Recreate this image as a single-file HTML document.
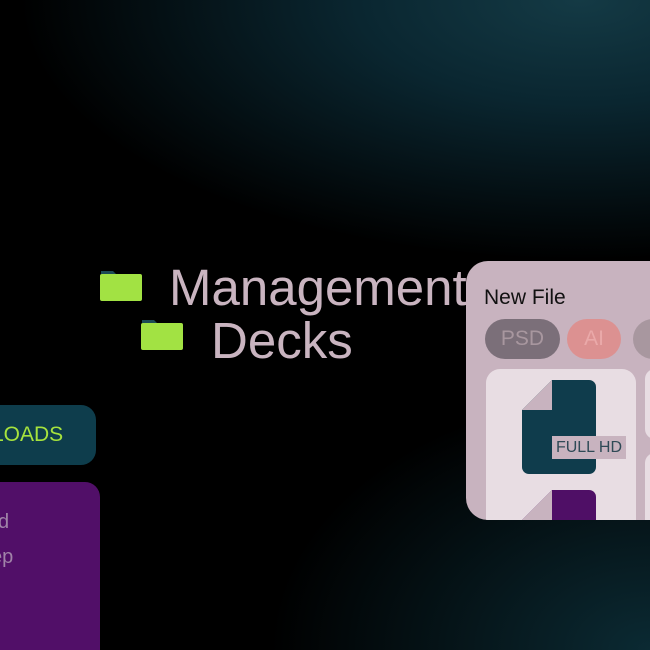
<!DOCTYPE html>
<html><head><style>
html,body{margin:0;padding:0;width:650px;height:650px;overflow:hidden}
body{position:relative;font-family:"Liberation Sans",sans-serif;
background:radial-gradient(ellipse 560px 260px at 580px 0px,#143a45 0%,#0a2630 40%,rgba(0,0,0,0) 100%),
radial-gradient(ellipse 380px 260px at 650px 650px,#0b2a33 0%,rgba(0,0,0,0) 100%),#000;}
.abs{position:absolute}
.folder{position:absolute;width:42px;height:32px}
</style></head><body>
<svg class="folder" style="left:100px;top:269px" viewBox="0 0 42 32"><path d="M1 2h12l3 3h-15z" fill="#1c4a55"/><rect x="0" y="5" width="42" height="27" rx="2" fill="#a2e243"/></svg>
<svg class="folder" style="left:141px;top:318px" viewBox="0 0 42 32"><path d="M1 2h12l3 3h-15z" fill="#1c4a55"/><rect x="0" y="5" width="42" height="27" rx="2" fill="#a2e243"/></svg>
<div class="abs" style="left:169px;top:259px;font-size:51px;color:#c9b4c0;line-height:58px;white-space:nowrap">Management</div>
<div class="abs" style="left:211px;top:312px;font-size:51px;color:#c9b4c0;line-height:58px">Decks</div>

<div class="abs" style="left:-40px;top:405px;width:136px;height:60px;border-radius:15px;background:#0e3d4c"></div>
<div class="abs" style="left:-8px;top:423px;font-size:21px;color:#a6e33d;line-height:24px;white-space:nowrap">LOADS</div>
<div class="abs" style="left:-40px;top:482px;width:140px;height:190px;border-radius:15px;background:#510f68"></div>
<div class="abs" style="left:-2px;top:510px;font-size:20px;color:#a083a8;line-height:24px">d</div>
<div class="abs" style="left:-9px;top:545px;font-size:20px;color:#a083a8;line-height:24px">ep</div>

<div class="abs" style="left:466px;top:261px;width:220px;height:259px;border-radius:22px;background:#c8b3bf;overflow:hidden">
  <div class="abs" style="left:18px;top:25px;font-size:21px;color:#111;line-height:24px">New File</div>
  <div class="abs" style="left:19px;top:58px;width:75px;height:40px;border-radius:20px;background:#7b6f79;color:#a8979f;font-size:21px;line-height:40px;text-align:center">PSD</div>
  <div class="abs" style="left:101px;top:58px;width:54px;height:40px;border-radius:20px;background:#dc9191;color:#eaa9a9;font-size:21px;line-height:40px;text-align:center">AI</div>
  <div class="abs" style="left:167px;top:58px;width:60px;height:40px;border-radius:20px;background:#a8979f"></div>
  <div class="abs" style="left:20px;top:108px;width:150px;height:170px;border-radius:14px;background:#e8dde3"></div>
  <div class="abs" style="left:179px;top:108px;width:60px;height:70px;border-radius:10px;background:#e8dde3"></div>
  <div class="abs" style="left:179px;top:192px;width:60px;height:80px;border-radius:10px;background:#e8dde3"></div>
  <svg class="abs" style="left:56px;top:119px" width="74" height="94" viewBox="0 0 74 94"><path d="M30 0H67a7 7 0 0 1 7 7V87a7 7 0 0 1-7 7H7a7 7 0 0 1-7-7V30z" fill="#0f3c4c"/><path d="M30 0V30H0z" fill="#c8b3bf"/></svg>
  <div class="abs" style="left:86px;top:175px;width:74px;height:23px;background:#c8b3bf;color:#2f4a56;font-size:16px;line-height:23px;text-align:center">FULL HD</div>
  <svg class="abs" style="left:56px;top:229px" width="74" height="40" viewBox="0 0 74 40"><path d="M30 0H67a7 7 0 0 1 7 7V40H0V30z" fill="#4f0f66"/><path d="M30 0V30H0z" fill="#c8b3bf"/></svg>
</div>
</body></html>
